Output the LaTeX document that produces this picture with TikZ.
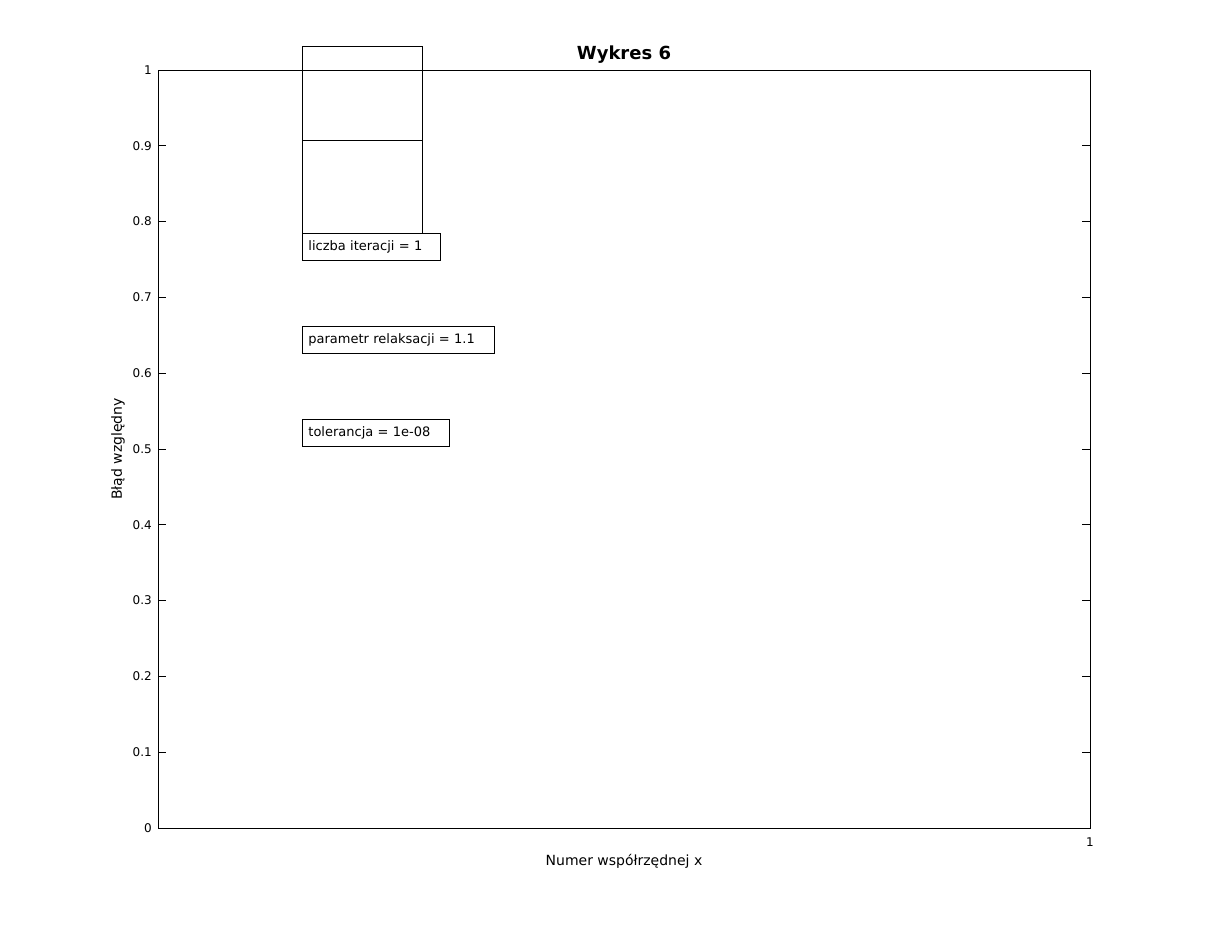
\documentclass[tikz,border=0pt]{standalone}
\usepackage{fontspec}
\setmainfont{DejaVu Sans}
\usepackage{tikz}
\usetikzlibrary{positioning}

\tikzset{
  frameline/.style={line width=0.6pt, black},
  ticklabel/.style={font=\fontsize{9}{10}\selectfont, inner sep=0pt},
  axislabel/.style={font=\fontsize{10.5}{12}\selectfont, inner sep=0pt},
  infobox/.style={draw, line width=0.6pt, fill=white, anchor=north west,
    align=left, inner xsep=4.5pt, inner ysep=0pt, minimum height=20.25pt,
    font=\fontsize{9.75}{11}\selectfont},
  emptybox/.style={draw, line width=0.6pt, anchor=north west, inner sep=0pt,
    minimum width=90pt, minimum height=70.5pt}
}

\begin{document}
\begin{tikzpicture}[x=0.75pt, y=-0.75pt]
   \useasboundingbox (0,0) rectangle (1206,932);

   % axes frame
   \draw[frameline] (158,70) rectangle (1090,828);
   \foreach \v in {1,...,9} {
     \draw[frameline] (158,828-75.8*\v) -- ++(8,0);
     \draw[frameline] (1090,828-75.8*\v) -- ++(-8,0);
   }
   \node[ticklabel, anchor=east] (y0) at (152,828) {0};
   \node[ticklabel, anchor=east] (y1) at (152,752.2) {0.1};
   \node[ticklabel, anchor=east] (y2) at (152,676.4) {0.2};
   \node[ticklabel, anchor=east] (y3) at (152,600.6) {0.3};
   \node[ticklabel, anchor=east] (y4) at (152,524.8) {0.4};
   \node[ticklabel, anchor=east] (y5) at (152,449) {0.5};
   \node[ticklabel, anchor=east] (y6) at (152,373.2) {0.6};
   \node[ticklabel, anchor=east] (y7) at (152,297.4) {0.7};
   \node[ticklabel, anchor=east] (y8) at (152,221.6) {0.8};
   \node[ticklabel, anchor=east] (y9) at (152,145.8) {0.9};
   \node[ticklabel, anchor=east] (y10) at (152,70) {1};
   \node[ticklabel, anchor=north] (x1) at (1090,837) {1};

   % title and axis labels
   \node[font=\fontsize{13.5}{15}\bfseries, inner sep=0pt] (title) at (624,55) {Wykres 6};
   \node[axislabel] (xlab) at (624,861) {Numer współrzędnej x};
   \node[axislabel, rotate=90] (ylab) at (118,449) {Błąd względny};

   % annotation boxes
   \node[emptybox] (top) at (302,46) {};
   \node[emptybox] (mid) at (302,140) {};
   \node[infobox, text width=94.5pt] (iter) at (302,233) {liczba iteracji = 1};
   \node[infobox, text width=135pt] (relax) at (302,326) {parametr relaksacji = 1.1};
   \node[infobox, text width=101.25pt] (tol) at (302,419) {tolerancja = 1e-08};
\end{tikzpicture}
\end{document}
